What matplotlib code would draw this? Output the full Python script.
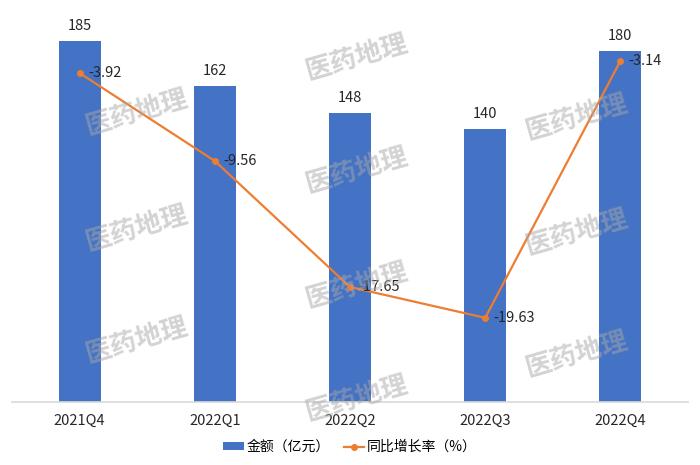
import matplotlib.pyplot as plt
from matplotlib.patches import Patch
from matplotlib.lines import Line2D
import numpy as np

plt.rcParams['font.family'] = ['Noto Sans CJK SC', 'DejaVu Sans']

# data
quarters = ['2021Q4', '2022Q1', '2022Q2', '2022Q3', '2022Q4']
amount = [185, 162, 148, 140, 180]
growth = [-3.92, -9.56, -17.65, -19.63, -3.14]

bar_color = '#4472C4'
line_color = '#ED7D31'
fs = 10.5

fig = plt.figure(figsize=(7, 4.65), dpi=100)
ax = fig.add_axes([12/700, 63.5/465, 676/700, 389.5/465])
x = np.arange(len(quarters))

ax.bar(x, amount, width=0.31, color=bar_color, zorder=2)
ax.set_xlim(-0.5, 4.5)
ax.set_ylim(0, 200)
ax.set_xticks(x)
ax.set_xticklabels(quarters, fontsize=fs, color='#262626')
ax.tick_params(axis='x', length=0, pad=9)
ax.set_yticks([])
for s in ['top', 'left', 'right']:
    ax.spines[s].set_visible(False)
ax.spines['bottom'].set_color('#d9d9d9')
ax.spines['bottom'].set_linewidth(1.2)

for xi, v in zip(x, amount):
    ax.annotate(str(v), (xi, v), xytext=(0, 6), textcoords='offset points',
                ha='center', va='bottom', fontsize=fs, color='#262626')

ax2 = ax.twinx()
ax2.plot(x, growth, color=line_color, lw=1.6, marker='o', markersize=4, zorder=3)
ax2.set_ylim(-25, 0)
ax2.set_yticks([])
for s in ['top', 'left', 'right', 'bottom']:
    ax2.spines[s].set_visible(False)

for xi, v in zip(x, growth):
    ax2.annotate(f'{v:.2f}', (xi, v), xytext=(6, 0), textcoords='offset points',
                 ha='left', va='center', fontsize=fs, color='#262626')

# watermark
wm_pos = [(137, 112), (137, 228), (137, 340),
          (357, 57), (357, 170), (357, 285), (357, 398),
          (577, 117), (577, 232), (577, 354)]
for px, py in wm_pos:
    fig.text(px/700, 1 - py/465, '医药地理', fontsize=19, fontweight='bold',
             color='#a8a8a8', alpha=0.5, rotation=16,
             ha='center', va='center', zorder=10)

handles = [Patch(facecolor=bar_color, edgecolor='none'),
           Line2D([0], [0], color=line_color, lw=1.6, marker='o', markersize=4)]
fig.legend(handles, ['金额（亿元）', '同比增长率（%）'], loc='center',
           bbox_to_anchor=(350/700, 1 - 447/465), ncol=2, frameon=False,
           fontsize=10, handlelength=1.5, handleheight=0.5,
           handletextpad=0.2, columnspacing=1.0)

fig.savefig('out.png', dpi=100)
